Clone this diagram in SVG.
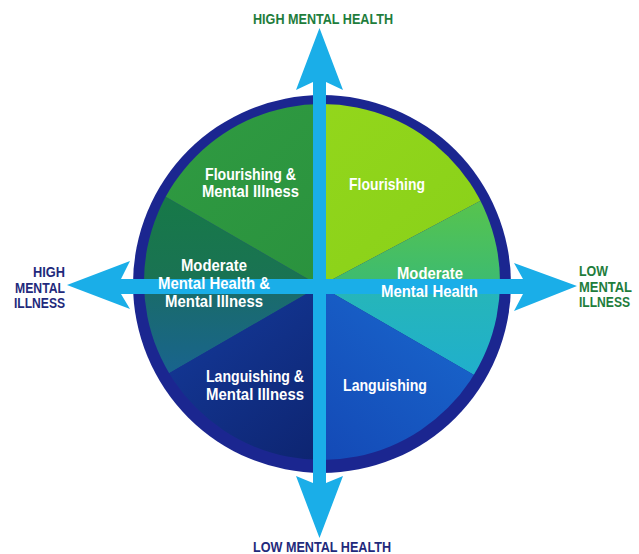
<svg xmlns="http://www.w3.org/2000/svg" width="639" height="554" viewBox="0 0 639 554">
<style>
.lbl{font-family:"Liberation Sans",Arial,sans-serif;font-weight:bold;fill:#fff;font-size:16.5px;text-anchor:middle}
.ax{font-family:"Liberation Sans",Arial,sans-serif;font-weight:bold;font-size:14.5px}
.g{fill:#1e7d3c}
.n{fill:#1f2a7c}
.arrow{fill:#1aaee8}
</style>
<defs>
<clipPath id="inner"><circle cx="322" cy="282" r="178"/></clipPath>
<linearGradient id="q1u" x1="0" y1="0" x2="1" y2="1"><stop offset="0" stop-color="#96d81c"/><stop offset="1" stop-color="#84ce18"/></linearGradient>
<linearGradient id="q1l" x1="0" y1="0" x2="0" y2="1"><stop offset="0" stop-color="#72cc28"/><stop offset="1" stop-color="#3cbb72"/></linearGradient>
<linearGradient id="q4u" x1="0" y1="0" x2="0" y2="1"><stop offset="0" stop-color="#26b6b8"/><stop offset="1" stop-color="#19a8e2"/></linearGradient>
<linearGradient id="q4l" x1="1" y1="0" x2="0" y2="1"><stop offset="0" stop-color="#1c78da"/><stop offset="1" stop-color="#123fae"/></linearGradient>
<linearGradient id="q3u" x1="0" y1="0" x2="0" y2="1"><stop offset="0" stop-color="#1a6c68"/><stop offset="1" stop-color="#175ab8"/></linearGradient>
<linearGradient id="q3l" x1="0" y1="0" x2="1" y2="1"><stop offset="0" stop-color="#1846b2"/><stop offset="1" stop-color="#0b1d62"/></linearGradient>
<linearGradient id="q2u" x1="0" y1="0" x2="1" y2="1"><stop offset="0" stop-color="#34a244"/><stop offset="1" stop-color="#2a923e"/></linearGradient>
<linearGradient id="q2l" x1="0" y1="0" x2="0" y2="1"><stop offset="0" stop-color="#13803a"/><stop offset="1" stop-color="#1a7254"/></linearGradient>
</defs>

<g id="circle">
<circle cx="322" cy="284" r="189" fill="#1b2690"/>
<g clip-path="url(#inner)">
<polygon points="320,286 320,0 640,0 640,116" fill="url(#q1u)"/>
<polygon points="320,286 640,116 640,286" fill="url(#q1l)"/>
<polygon points="320,286 640,286 640,471" fill="url(#q4u)"/>
<polygon points="320,286 640,471 640,560 320,560" fill="url(#q4l)"/>
<polygon points="320,286 0,286 0,471" fill="url(#q3u)"/>
<polygon points="320,286 0,471 0,560 320,560" fill="url(#q3l)"/>
<polygon points="320,286 0,286 0,101" fill="url(#q2l)"/>
<polygon points="320,286 0,101 0,0 320,0" fill="url(#q2u)"/>
</g>
</g>

<g id="connectors">
<g id="axis-vertical" class="arrow">
<rect x="313" y="80" width="13" height="404"/>
<polygon points="319.5,28 343,90 326,82 313,82 296,90"/>
<polygon points="319.5,538 343,476 326,483 313,483 296,476"/>
</g>
<g id="axis-horizontal" class="arrow">
<rect x="118" y="279" width="408" height="15"/>
<polygon points="67,285 130,261 121,279 121,294 130,309"/>
<polygon points="577,286 514,263 523,279 523,294 514,311"/>
</g>
</g>

<g id="node-flourishing-mi">
<text class="lbl" x="250.5" y="179.5" textLength="91" lengthAdjust="spacingAndGlyphs">Flourishing &amp;</text>
<text class="lbl" x="250.5" y="197" textLength="97" lengthAdjust="spacingAndGlyphs">Mental Illness</text>
</g>
<g id="node-flourishing">
<text class="lbl" x="387" y="189.5" textLength="76" lengthAdjust="spacingAndGlyphs">Flourishing</text>
</g>
<g id="node-moderate-mi">
<text class="lbl" x="214" y="271" textLength="66" lengthAdjust="spacingAndGlyphs">Moderate</text>
<text class="lbl" x="214" y="289" textLength="112" lengthAdjust="spacingAndGlyphs">Mental Health &amp;</text>
<text class="lbl" x="214" y="307" textLength="98" lengthAdjust="spacingAndGlyphs">Mental Illness</text>
</g>
<g id="node-moderate">
<text class="lbl" x="430" y="279" textLength="66" lengthAdjust="spacingAndGlyphs">Moderate</text>
<text class="lbl" x="429.5" y="297" textLength="97" lengthAdjust="spacingAndGlyphs">Mental Health</text>
</g>
<g id="node-languishing-mi">
<text class="lbl" x="255" y="382" textLength="98" lengthAdjust="spacingAndGlyphs">Languishing &amp;</text>
<text class="lbl" x="255" y="399.5" textLength="98" lengthAdjust="spacingAndGlyphs">Mental Illness</text>
</g>
<g id="node-languishing">
<text class="lbl" x="385" y="391" textLength="84" lengthAdjust="spacingAndGlyphs">Languishing</text>
</g>

<g id="label-high-mh">
<text class="ax g" x="253" y="24" textLength="140" lengthAdjust="spacingAndGlyphs">HIGH MENTAL HEALTH</text>
</g>
<g id="label-low-mh">
<text class="ax n" x="253" y="552" textLength="138" lengthAdjust="spacingAndGlyphs">LOW MENTAL HEALTH</text>
</g>
<g id="label-high-mi">
<text class="ax n" x="33" y="277" textLength="32" lengthAdjust="spacingAndGlyphs">HIGH</text>
<text class="ax n" x="15" y="293" textLength="50" lengthAdjust="spacingAndGlyphs">MENTAL</text>
<text class="ax n" x="14" y="308" textLength="51" lengthAdjust="spacingAndGlyphs">ILLNESS</text>
</g>
<g id="label-low-mi">
<text class="ax g" x="579" y="276" textLength="29" lengthAdjust="spacingAndGlyphs">LOW</text>
<text class="ax g" x="579" y="292" textLength="53" lengthAdjust="spacingAndGlyphs">MENTAL</text>
<text class="ax g" x="579" y="307" textLength="51" lengthAdjust="spacingAndGlyphs">ILLNESS</text>
</g>
</svg>
